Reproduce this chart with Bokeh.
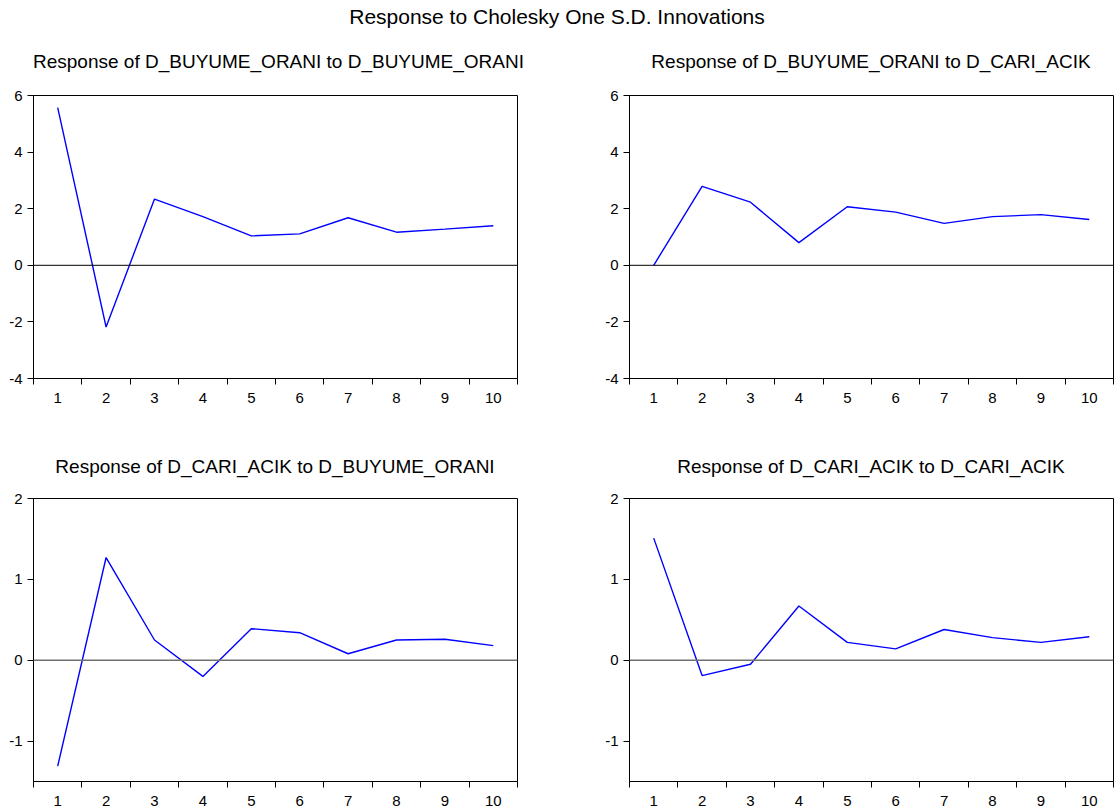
from bokeh.plotting import figure
from bokeh.models import Range1d, FixedTicker, Span, Div
from bokeh.layouts import column, row
from bokeh.embed import file_html
from bokeh.resources import INLINE

# ---- data ----
periods = [1, 2, 3, 4, 5, 6, 7, 8, 9, 10]
x_labels = ["1", "2", "3", "4", "5", "6", "7", "8", "9", "10"]

resp_buyume_to_buyume = [5.57, -2.18, 2.34, 1.72, 1.04, 1.11, 1.68, 1.17, 1.28, 1.40]
resp_buyume_to_cari = [0.00, 2.79, 2.23, 0.80, 2.07, 1.88, 1.48, 1.72, 1.79, 1.62]
resp_cari_to_buyume = [-1.31, 1.27, 0.25, -0.20, 0.39, 0.34, 0.08, 0.25, 0.26, 0.18]
resp_cari_to_cari = [1.51, -0.19, -0.05, 0.67, 0.22, 0.14, 0.38, 0.28, 0.22, 0.29]

top_y_ticks = [-4, -2, 0, 2, 4, 6]
top_y_labels = ["-4", "-2", "0", "2", "4", "6"]
bottom_y_ticks = [-1, 0, 1, 2]
bottom_y_labels = ["-1", "0", "1", "2"]

main_title = "Response to Cholesky One S.D. Innovations"
titles = [
    "Response of D_BUYUME_ORANI to D_BUYUME_ORANI",
    "Response of D_BUYUME_ORANI to D_CARI_ACIK",
    "Response of D_CARI_ACIK to D_BUYUME_ORANI",
    "Response of D_CARI_ACIK to D_CARI_ACIK",
]

FONT = "Liberation Sans"
FRAME_W = 484
FRAME_H = 283
LEFT_L, LEFT_R = 33, 18
RIGHT_L, RIGHT_R = 94, 1


def make_panel(values, y_lo, y_hi, y_ticks, y_labels, zero_color, zero_width,
               b_left, b_right, b_top, b_bottom):
    p = figure(frame_width=FRAME_W, frame_height=FRAME_H,
               x_range=Range1d(0.5, 10.5), y_range=Range1d(y_lo, y_hi),
               output_backend="svg", toolbar_location=None,
               min_border_left=b_left, min_border_right=b_right,
               min_border_top=b_top, min_border_bottom=b_bottom)
    p.grid.visible = False
    p.outline_line_color = "black"
    p.outline_line_width = 1
    p.outline_line_alpha = 1
    p.background_fill_color = "white"
    p.border_fill_color = "white"

    xa = p.xaxis[0]
    xa.ticker = FixedTicker(ticks=periods, minor_ticks=[x - 0.5 for x in periods] + [10.5])
    xa.major_label_overrides = {k: v for k, v in zip(periods, x_labels)}
    xa.major_tick_in = 0
    xa.major_tick_out = 0
    xa.minor_tick_in = 0
    xa.minor_tick_out = 6
    xa.minor_tick_line_color = "black"
    xa.axis_line_color = "black"
    xa.major_label_standoff = 8
    xa.major_label_text_font = FONT
    xa.major_label_text_font_size = "15px"
    xa.major_label_text_color = "black"

    ya = p.yaxis[0]
    ya.ticker = FixedTicker(ticks=y_ticks, minor_ticks=[])
    ya.major_label_overrides = {k: v for k, v in zip(y_ticks, y_labels)}
    ya.major_tick_in = 0
    ya.major_tick_out = 6
    ya.major_tick_line_color = "black"
    ya.axis_line_color = "black"
    ya.major_label_standoff = 5
    ya.major_label_text_font = FONT
    ya.major_label_text_font_size = "15px"
    ya.major_label_text_color = "black"

    p.add_layout(Span(location=0, dimension="width", line_color=zero_color,
                      line_width=zero_width))
    p.line(periods, values, line_color="#0000FF", line_width=1.4)
    return p


def subtitle(text, top, left, right):
    return Div(text=text, width=FRAME_W, height=22, margin=(top, right, 0, left),
               styles={"text-align": "center", "font-family": FONT, "font-size": "19px",
                       "line-height": "22px", "color": "black", "white-space": "nowrap",
                       "width": f"{FRAME_W}px"})


p1 = make_panel(resp_buyume_to_buyume, -4, 6, top_y_ticks, top_y_labels,
                "black", 1, LEFT_L, LEFT_R, 22, 40)
p2 = make_panel(resp_buyume_to_cari, -4, 6, top_y_ticks, top_y_labels,
                "black", 1, RIGHT_L, RIGHT_R, 22, 40)
p3 = make_panel(resp_cari_to_buyume, -1.5, 2, bottom_y_ticks, bottom_y_labels,
                "#707070", 1.5, LEFT_L, LEFT_R, 20, 23)
p4 = make_panel(resp_cari_to_cari, -1.5, 2, bottom_y_ticks, bottom_y_labels,
                "#707070", 1.5, RIGHT_L, RIGHT_R, 20, 23)

head = Div(text=main_title, width=1114, height=34, margin=(0, 0, 0, 0),
           styles={"text-align": "center", "font-family": FONT, "font-size": "21px",
                   "line-height": "34px", "color": "black", "width": "1114px"})

sub_row1 = row(subtitle(titles[0], 17, LEFT_L, LEFT_R),
               subtitle(titles[1], 17, RIGHT_L, RIGHT_R), spacing=0)
sub_row2 = row(subtitle(titles[2], 38, LEFT_L, LEFT_R),
               subtitle(titles[3], 38, RIGHT_L, RIGHT_R), spacing=0)

layout = column(head, sub_row1, row(p1, p2, spacing=0),
                sub_row2, row(p3, p4, spacing=0), spacing=0)

open("out.html", "w").write(file_html(layout, INLINE))
